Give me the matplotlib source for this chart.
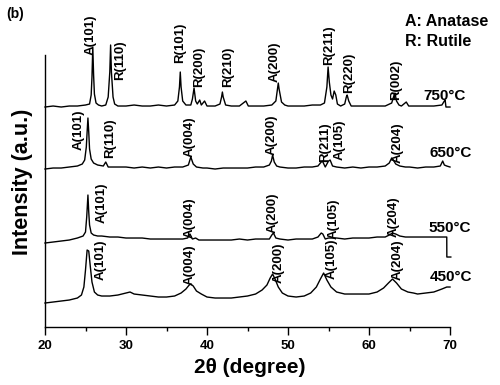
import matplotlib
matplotlib.use("Agg")
import matplotlib.pyplot as plt
from matplotlib.ticker import MultipleLocator

plt.rcParams['font.family'] = ['Liberation Sans', 'DejaVu Sans']
plt.rcParams['font.weight'] = 'bold'

# XRD traces (2theta in degree, intensity in a.u., already stacked)
tt_750 = [20.0, 21.0, 22.0, 23.0, 24.0, 25.0, 25.5, 25.7, 25.8, 25.9, 26.0, 26.1, 26.3, 26.6,
          27.0, 27.5, 27.8, 28.0, 28.1, 28.2, 28.4, 28.6, 29.0, 30.0, 31.0, 32.0, 33.0, 34.0,
          35.0, 36.0, 36.4, 36.6, 36.7, 36.8, 37.0, 37.4, 38.0, 38.2, 38.4, 38.6, 38.8, 39.1,
          39.3, 39.7, 40.0, 41.0, 41.6, 41.8, 41.9, 42.0, 42.3, 43.0, 44.0, 44.8, 45.1, 46.0,
          47.0, 48.0, 48.5, 48.7, 48.8, 48.9, 49.2, 49.6, 50.0, 51.0, 52.0, 53.0, 54.0, 54.5,
          54.8, 54.95, 55.1, 55.3, 55.5, 55.7, 55.9, 56.1, 56.5, 57.0, 57.2, 57.3, 57.5, 57.8,
          58.0, 59.0, 60.0, 61.0, 62.0, 62.8, 63.1, 63.2, 63.4, 63.7, 64.0, 64.6, 64.9, 66.0,
          67.0, 68.0, 69.0, 69.3, 69.4, 69.5, 70.0]
int_750 = [220, 221, 220, 221, 221, 222, 223, 232, 250, 280, 252, 233, 224, 222,
           221, 222, 230, 255, 282, 255, 230, 223, 221, 221, 222, 221, 221, 222,
           221, 222, 226, 240, 255, 240, 226, 222, 222, 228, 239, 226, 223, 227,
           222, 226, 221, 221, 223, 230, 235, 230, 222, 221, 221, 226, 221, 221,
           221, 222, 226, 238, 244, 238, 225, 222, 221, 221, 221, 222, 222, 224,
           240, 260, 245, 232, 228, 236, 232, 223, 221, 223, 230, 232, 226, 221,
           221, 221, 221, 221, 221, 224, 232, 234, 226, 222, 221, 225, 221, 221,
           221, 221, 222, 226, 227, 220, 220]

tt_650 = [20.0, 21.0, 22.0, 23.0, 24.0, 24.6, 24.9, 25.1, 25.2, 25.3, 25.4, 25.5, 25.7, 26.0,
          26.5, 27.2, 27.5, 27.8, 28.5, 30.0, 31.0, 32.0, 33.0, 34.0, 35.0, 36.0, 37.0, 37.7,
          38.0, 38.3, 38.7, 39.5, 40.0, 41.0, 42.0, 43.0, 44.0, 45.0, 46.0, 47.0, 47.7, 47.95,
          48.1, 48.3, 48.6, 49.0, 50.0, 51.0, 52.0, 53.0, 53.7, 54.1, 54.25, 54.6, 55.0, 55.2,
          55.5, 56.0, 57.0, 58.0, 59.0, 60.0, 61.0, 62.0, 62.5, 62.8, 63.0, 63.3, 63.8, 64.5,
          65.0, 66.0, 67.0, 68.0, 68.8, 69.1, 69.3, 69.6, 70.0]
int_650 = [158, 159, 159, 160, 161, 163, 167, 180, 195, 209, 195, 178, 168, 164,
           162, 161, 165, 160, 160, 160, 159, 160, 159, 160, 159, 160, 160, 162,
           170, 163, 160, 159, 159, 158, 159, 159, 159, 159, 160, 160, 162, 166,
           172, 165, 161, 160, 159, 159, 160, 160, 161, 165, 166, 160, 166, 167,
           161, 160, 159, 160, 159, 160, 160, 161, 164, 169, 167, 163, 161, 160,
           160, 159, 160, 160, 161, 166, 162, 161, 160]

tt_550 = [20.0, 21.0, 22.0, 23.0, 24.0, 24.7, 25.0, 25.15, 25.3, 25.4, 25.5, 25.7, 26.0, 26.5,
          27.0, 28.0, 29.0, 30.0, 31.0, 32.0, 33.0, 34.0, 35.0, 36.0, 37.0, 37.6, 37.9, 38.2,
          38.6, 39.0, 40.0, 41.0, 42.0, 43.0, 44.0, 45.0, 46.0, 47.0, 47.7, 48.0, 48.2, 48.5,
          49.0, 50.0, 51.0, 52.0, 53.0, 53.7, 54.1, 54.3, 54.6, 55.0, 56.0, 57.0, 58.0, 59.0,
          60.0, 61.0, 62.0, 62.5, 62.9, 63.3, 63.8, 64.5, 65.0, 66.0, 67.0, 68.0, 69.0, 69.6,
          69.61, 70.1]
int_550 = [84, 85, 86, 87, 89, 91, 95, 110, 132, 115, 102, 94, 92, 91,
           91, 90, 90, 89, 89, 89, 88, 88, 88, 88, 88, 89, 93, 88,
           89, 87, 87, 87, 87, 87, 88, 87, 88, 88, 88, 92, 94, 89,
           88, 87, 88, 88, 88, 90, 94, 93, 88, 89, 89, 88, 89, 89,
           89, 90, 90, 92, 94, 93, 91, 90, 90, 90, 90, 90, 90, 90,
           70, 70]

tt_450 = [20.0, 21.0, 22.0, 23.0, 24.0, 24.5, 24.8, 25.0, 25.2, 25.4, 25.6, 25.8, 26.1, 26.5,
          27.0, 28.0, 29.0, 30.0, 30.5, 31.0, 32.0, 33.0, 34.0, 35.0, 36.0, 36.8, 37.4, 37.8,
          38.0, 38.3, 38.7, 39.3, 40.0, 41.0, 42.0, 43.0, 44.0, 45.0, 46.0, 46.8, 47.4, 47.8,
          48.1, 48.4, 48.8, 49.3, 50.0, 51.0, 52.0, 52.8, 53.5, 54.0, 54.4, 54.8, 55.3, 56.0,
          57.0, 58.0, 59.0, 60.0, 61.0, 61.8, 62.4, 62.9, 63.4, 64.0, 64.8, 65.5, 66.0, 67.0,
          68.0, 69.0, 69.6, 70.0]
int_450 = [24, 25, 26, 27, 29, 32, 40, 57, 77, 76, 60, 45, 35, 32,
           31, 31, 32, 34, 35, 33, 32, 31, 30, 30, 31, 34, 38, 42,
           43, 41, 36, 33, 30, 29, 29, 29, 30, 31, 33, 37, 42, 49,
           53, 48, 40, 34, 31, 30, 31, 34, 40, 48, 54, 47, 40, 35,
           33, 33, 33, 33, 35, 39, 44, 48, 44, 38, 35, 34, 33, 34,
           35, 38, 40, 40]

traces = [(tt_750, int_750), (tt_650, int_650), (tt_550, int_550), (tt_450, int_450)]

temps = ['750°C', '650°C', '550°C', '450°C']
temp_pos = [(66.7, 231), (67.5, 174), (67.4, 99), (67.5, 50)]

# peak labels: text, 2theta, intensity where label starts
labels_750 = [('A(101)', 25.7, 272), ('R(110)', 29.3, 247), ('R(101)', 36.7, 264),
              ('R(200)', 39.0, 240), ('R(210)', 42.6, 240), ('A(200)', 48.4, 245),
              ('R(211)', 55.1, 262), ('R(220)', 57.5, 234), ('R(002)', 63.3, 227)]
labels_650 = [('A(101)', 24.2, 177), ('R(110)', 28.0, 169), ('A(004)', 37.8, 170),
              ('A(200)', 48.0, 172), ('R(211)', 54.6, 165), ('A(105)', 56.4, 167),
              ('A(204)', 63.5, 164)]
labels_550 = [('A(101)', 27.0, 104), ('A(004)', 37.9, 89), ('A(200)', 48.1, 94),
              ('A(105)', 55.6, 88), ('A(204)', 63.0, 90)]
labels_450 = [('A(101)', 26.9, 47), ('A(004)', 37.8, 42), ('A(200)', 48.8, 44),
              ('A(105)', 55.4, 48), ('A(204)', 63.5, 47)]

fig = plt.figure(figsize=(5, 3.85), dpi=100)
ax = fig.add_axes([0.09, 0.1506, 0.81, 0.7065])

for tt, inten in traces:
    ax.plot(tt, inten, color='black', lw=1.0, clip_on=False)

for name, x, y in labels_750 + labels_650 + labels_550 + labels_450:
    ax.text(x, y, name, rotation=90, ha='center', va='bottom', fontsize=9.5,
            fontweight='bold')

for t, (x, y) in zip(temps, temp_pos):
    ax.text(x, y, t, ha='left', va='center', fontsize=11, fontweight='bold')

ax.set_xlim(20, 70)
ax.set_ylim(0, 272)
ax.spines['top'].set_visible(False)
ax.spines['right'].set_visible(False)
ax.spines['left'].set_linewidth(1.0)
ax.spines['bottom'].set_linewidth(1.0)
ax.set_yticks([])
ax.xaxis.set_major_locator(MultipleLocator(10))
ax.xaxis.set_minor_locator(MultipleLocator(5))
ax.tick_params(axis='x', which='major', direction='out', length=6, width=1,
               labelsize=9.5)
ax.tick_params(axis='x', which='minor', direction='out', length=3, width=1)
for lab in ax.get_xticklabels():
    lab.set_fontweight('bold')

ax.set_xlabel('2θ (degree)', fontsize=15, fontweight='bold')
ax.xaxis.set_label_coords(0.506, -0.115)
ax.set_ylabel('Intensity (a.u.)', fontsize=15.5, fontweight='bold')
ax.yaxis.set_label_coords(-0.03, 0.533)

fig.text(405 / 500, 1 - 22 / 385, 'A: Anatase', fontsize=11.5, fontweight='bold',
         va='center')
fig.text(405 / 500, 1 - 42 / 385, 'R: Rutile', fontsize=11.5, fontweight='bold',
         va='center')
fig.text(6 / 500, 1 - 14 / 385, '(b)', fontsize=10, fontweight='bold', va='center')

fig.savefig('out.png', dpi=100)
